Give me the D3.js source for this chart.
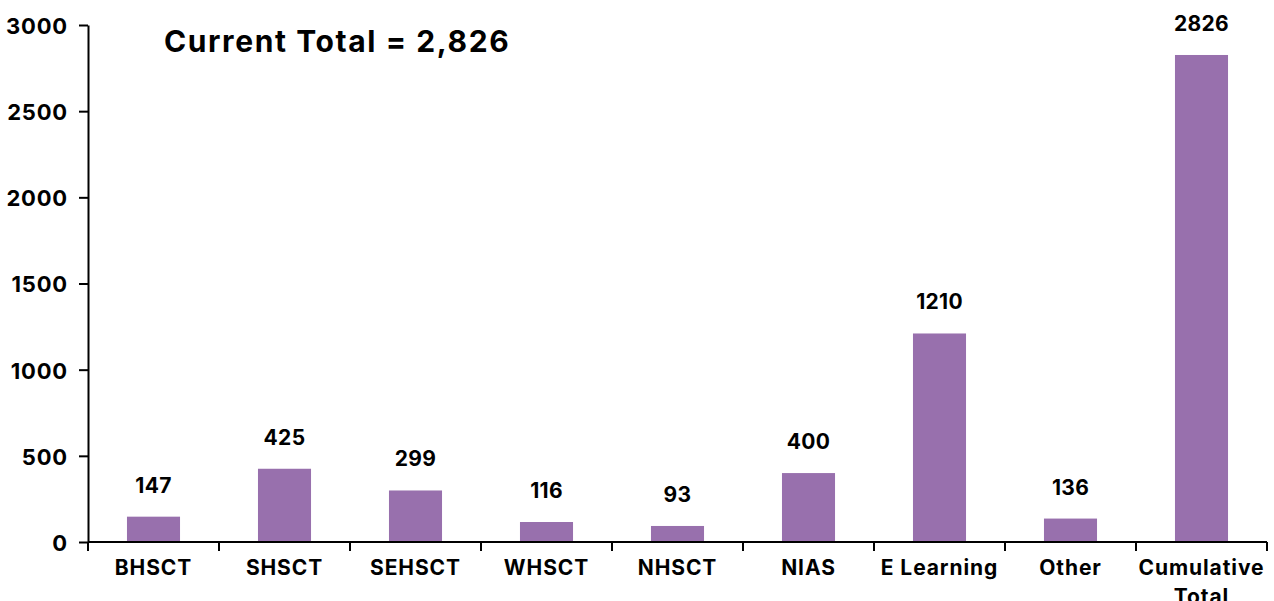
<!DOCTYPE html>
<html>
<head>
<meta charset="utf-8">
<script src="https://cdn.jsdelivr.net/npm/d3@7"></script>
<style>
  html, body { margin: 0; padding: 0; background: #ffffff; }
  svg { display: block; }
  text { font-family: Inter, "Liberation Sans", Arial, sans-serif; font-weight: 700; fill: #000; }
</style>
</head>
<body>
<svg id="chart" width="1274" height="601"></svg>
<script>
const categories = ["BHSCT", "SHSCT", "SEHSCT", "WHSCT", "NHSCT", "NIAS", "E Learning", "Other", "Cumulative Total"];
const values = [147, 425, 299, 116, 93, 400, 1210, 136, 2826];
const yTicks = [0, 500, 1000, 1500, 2000, 2500, 3000];
const titleText = "Current Total = 2,826";

const W = 1274, H = 601;
const margin = { top: 25, right: 7, bottom: 59, left: 88 };
const svg = d3.select("#chart");

const x = d3.scaleBand().domain(categories).range([margin.left, W - margin.right]).padding(0);
const y = d3.scaleLinear().domain([0, 3000]).range([H - margin.bottom, margin.top]);

const barW = x.bandwidth() * 0.405;
const color = "#9870ad";

// bars
svg.append("g").selectAll("rect").data(categories).join("rect")
  .attr("x", (d) => x(d) + x.bandwidth() / 2 - barW / 2)
  .attr("y", (d, i) => y(values[i]))
  .attr("width", barW)
  .attr("height", (d, i) => y(0) - y(values[i]))
  .attr("fill", color);

// value labels
svg.append("g").selectAll("text").data(categories).join("text")
  .attr("x", (d) => x(d) + x.bandwidth() / 2)
  .attr("y", (d, i) => y(values[i]) - 24)
  .attr("text-anchor", "middle")
  .style("font-size", "21px")
  .style("letter-spacing", "0.3px")
  .text((d, i) => values[i]);

// y axis
const yAxis = d3.axisLeft(y).tickValues(yTicks).tickFormat(d3.format("d")).tickSize(9).tickPadding(11).tickSizeOuter(0);
const gy = svg.append("g").attr("transform", `translate(${margin.left},0)`).call(yAxis);
gy.select(".domain").attr("stroke", "#000").attr("stroke-width", 2);
gy.selectAll(".tick line").attr("stroke", "#000").attr("stroke-width", 2);
gy.selectAll(".tick text")
  .style("font-size", "22px")
  .style("letter-spacing", "0.8px")
  .style("font-family", "Inter, 'Liberation Sans', Arial, sans-serif")
  .style("font-weight", 700)
  .attr("fill", "#000")
  .attr("dy", "0.38em");

// x axis line
svg.append("line")
  .attr("x1", margin.left).attr("x2", W - margin.right)
  .attr("y1", y(0)).attr("y2", y(0))
  .attr("stroke", "#000").attr("stroke-width", 2);

// x ticks at category boundaries
const boundaries = categories.map((d) => x(d)).concat([x(categories[categories.length - 1]) + x.bandwidth()]);
svg.append("g").selectAll("line").data(boundaries).join("line")
  .attr("x1", (d) => d).attr("x2", (d) => d)
  .attr("y1", y(0)).attr("y2", y(0) + 9)
  .attr("stroke", "#000").attr("stroke-width", 2);

// x labels
const xl = svg.append("g").selectAll("text").data(categories).join("text")
  .attr("text-anchor", "middle")
  .style("font-size", "21px")
  .style("letter-spacing", "0.9px");
xl.each(function (d) {
  const t = d3.select(this);
  const cx = x(d) + x.bandwidth() / 2;
  const words = d === "Cumulative Total" ? ["Cumulative", "Total"] : [d];
  words.forEach((w, i) => {
    t.append("tspan").attr("x", cx).attr("y", y(0) + 33 + i * 29).text(w);
  });
});

// title
svg.append("text")
  .attr("x", 164).attr("y", 52)
  .style("font-size", "30px")
  .style("letter-spacing", "1.6px")
  .text(titleText);
</script>
</body>
</html>
